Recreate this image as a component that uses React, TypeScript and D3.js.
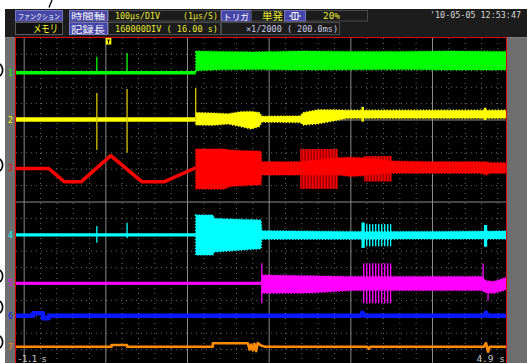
import React from 'react';
import * as d3 from 'd3';

type Pt = [number, number];
type Env = [number, number, number];
type Blk = [number, number, number, number];

// ---- axes ----
const timeDomain: [number, number] = [-1.1, 4.9]; // seconds
const divDomain: [number, number] = [0, 4]; // vertical divisions
const majorTimes = [-1, 0, 1, 2, 3, 4];
const majorDivs = [1, 2, 3];
const timeLabels = ['-1.1 s', '4.9 s'];
const channelNames = ['1', '2', '3', '4', '5', '6', '7'];
const channelColors = ['#00ff00', '#ffff00', '#ff0000', '#00ffff', '#ff00ff', '#0a18ff', '#ff8c00'];

// ---- CH1 (green) ----
const ch1Line: Pt[] = [[-1.1, 3.577], [1.1, 3.577]];
const ch1Spikes: Env[] = [[-0.11, 3.577, 3.772], [0.26, 3.577, 3.817], [-0.2, 3.577, 3.6], [0.93, 3.577, 3.6], [1.1, 3.577, 3.62]];
const ch1Band: Env[] = [[1.1, 3.6, 3.84], [1.4, 3.612, 3.835], [1.8, 3.615, 3.83], [2.4, 3.61, 3.84], [3.0, 3.612, 3.835], [3.6, 3.615, 3.835], [4.2, 3.61, 3.84], [4.9, 3.61, 3.835]];

// ---- CH2 (yellow) ----
const ch2Line: Pt[] = [[-1.1, 3.006], [1.1, 3.006]];
const ch2Spikes: Env[] = [[-0.11, 2.634, 3.329], [0.26, 2.601, 3.378], [1.1, 3.0, 3.39]];
const ch2Band: Env[] = [[1.1, 2.94, 3.09], [1.3, 2.935, 3.085], [1.5, 2.95, 3.075], [1.65, 2.92, 3.1], [1.78, 2.89, 3.105], [1.88, 2.92, 3.09], [1.91, 2.975, 3.045], [2.38, 2.97, 3.05], [2.42, 2.94, 3.09], [2.6, 2.955, 3.125], [2.8, 2.99, 3.125], [2.95, 3.02, 3.12], [4.9, 3.02, 3.12]];
const ch2Solid: Blk[] = [[3.13, 3.16, 2.98, 3.16], [4.63, 4.66, 3.0, 3.15]];

// ---- CH3 (red) ----
const ch3Line: Pt[] = [[-1.1, 2.409], [-0.7, 2.409], [-0.51, 2.248], [-0.3, 2.248], [0.06, 2.565], [0.44, 2.248], [0.72, 2.248], [1.1, 2.418]];
const ch3Band: Env[] = [[1.1, 2.16, 2.646], [1.45, 2.16, 2.646], [1.52, 2.19, 2.635], [1.7, 2.2, 2.625], [1.9, 2.21, 2.62], [1.91, 2.33, 2.49], [2.38, 2.33, 2.49], [2.84, 2.33, 2.54], [3.0, 2.31, 2.545], [3.14, 2.32, 2.54], [3.5, 2.35, 2.5], [4.0, 2.35, 2.49], [4.6, 2.35, 2.49], [4.66, 2.33, 2.49], [4.7, 2.35, 2.48], [4.9, 2.35, 2.48]];
const ch3Striped: Blk[] = [[2.38, 2.84, 2.16, 2.646], [3.16, 3.5, 2.25, 2.56]];

// ---- CH4 (cyan) ----
const ch4Line: Pt[] = [[-1.1, 1.598], [1.1, 1.598]];
const ch4Spikes: Env[] = [[-0.11, 1.504, 1.707], [0.26, 1.561, 1.748]];
const ch4Band: Env[] = [[1.1, 1.354, 1.841], [1.31, 1.354, 1.841], [1.33, 1.39, 1.8], [1.6, 1.41, 1.79], [1.9, 1.43, 1.78], [1.91, 1.545, 1.65], [3.0, 1.545, 1.64], [4.0, 1.55, 1.64], [4.9, 1.55, 1.645]];
const ch4Solid: Blk[] = [[3.13, 3.17, 1.44, 1.75], [4.63, 4.67, 1.455, 1.72]];
const ch4Striped: Blk[] = [[3.17, 3.5, 1.46, 1.73]];

// ---- CH5 (magenta) ----
const ch5Line: Pt[] = [[-1.1, 1.009], [1.91, 1.009]];
const ch5Spikes: Env[] = [[1.91, 0.765, 1.252], [4.62, 0.95, 1.25], [4.68, 0.8, 1.0]];
const ch5Band: Env[] = [[1.91, 0.887, 1.11], [2.5, 0.89, 1.1], [3.0, 0.92, 1.09], [4.0, 0.92, 1.09], [4.6, 0.92, 1.09], [4.66, 0.89, 1.04], [4.75, 0.887, 1.03], [4.9, 0.93, 1.08]];
const ch5Striped: Blk[] = [[3.14, 3.5, 0.765, 1.252]];

// ---- CH6 (blue) ----
const ch6Line: Pt[] = [[-1.1, 0.613], [-0.89, 0.613], [-0.89, 0.643], [-0.77, 0.643], [-0.77, 0.582], [-0.7, 0.582], [-0.7, 0.613], [3.12, 0.613], [3.14, 0.65], [3.17, 0.613], [4.63, 0.613], [4.655, 0.65], [4.68, 0.613], [4.9, 0.613]];

// ---- CH7 (orange) ----
const ch7Line: Pt[] = [[-1.1, 0.235], [0.07, 0.235], [0.07, 0.256], [0.26, 0.256], [0.26, 0.235], [1.31, 0.235], [1.31, 0.277], [1.74, 0.277], [1.76, 0.2], [1.78, 0.26], [1.8, 0.19], [1.82, 0.27], [1.84, 0.18], [1.86, 0.28], [1.9, 0.25], [1.95, 0.235], [3.2, 0.235], [3.22, 0.21], [3.24, 0.235], [4.63, 0.235], [4.655, 0.28], [4.68, 0.174], [4.7, 0.235], [4.9, 0.235]];

const channels = [
  { line: ch1Line, width: 3.5, band: ch1Band, spikes: ch1Spikes, spikeColor: '#00ff00', solid: [] as Blk[], striped: [] as Blk[], stripeBg: 'none' },
  { line: ch2Line, width: 4.5, band: ch2Band, spikes: ch2Spikes, spikeColor: '#d8c800', solid: ch2Solid, striped: [] as Blk[], stripeBg: 'none' },
  { line: ch3Line, width: 3.5, band: ch3Band, spikes: [] as Env[], spikeColor: '#ff0000', solid: [] as Blk[], striped: ch3Striped, stripeBg: '#a00000' },
  { line: ch4Line, width: 3.2, band: ch4Band, spikes: ch4Spikes, spikeColor: '#00ffff', solid: ch4Solid, striped: ch4Striped, stripeBg: 'none' },
  { line: ch5Line, width: 3.2, band: ch5Band, spikes: ch5Spikes, spikeColor: '#ff00ff', solid: [] as Blk[], striped: ch5Striped, stripeBg: 'none' },
  { line: ch6Line, width: 4.5, band: [] as Env[], spikes: [] as Env[], spikeColor: '#0a18ff', solid: [] as Blk[], striped: [] as Blk[], stripeBg: 'none' },
  { line: ch7Line, width: 2.6, band: [] as Env[], spikes: [] as Env[], spikeColor: '#ff8c00', solid: [] as Blk[], striped: [] as Blk[], stripeBg: 'none' },
];

const W = 527;
const H = 363;
const PL = 16, PR = 506, PT = 38, PB = 363;
const mono = '"DejaVu Sans Mono", "Noto Sans CJK JP", monospace';
const cjk = '"Noto Sans CJK JP", "DejaVu Sans", sans-serif';
const artifactYs = [70, 165, 276, 307, 342];

export default function App() {
  const x = d3.scaleLinear().domain(timeDomain).range([PL, PR]);
  const y = d3.scaleLinear().domain(divDomain).range([366, PT]);
  const line = d3.line<Pt>().x(d => x(d[0])).y(d => y(d[1]));
  const area = d3.area<Env>().x(d => x(d[0])).y0(d => y(d[1])).y1(d => y(d[2]));

  const minorTimes = d3.range(0, 30).map(i => -1 + i * 0.2).filter(t => Math.abs(t - Math.round(t)) > 0.01 && t < 4.9);
  const minorDivs = d3.range(1, 20).map(i => i * 0.2).filter(v => Math.abs(v - Math.round(v)) > 0.01 && y(v) > PT + 1);

  return (
    <svg width={W} height={H} style={{ position: 'absolute', left: 0, top: 0, display: 'block' }}>
      <defs>
        <clipPath id="plot"><rect x={PL} y={PT} width={PR - PL} height={PB - PT} /></clipPath>
        {channels.map((c, i) => (
          <pattern key={i} id={`st${i}`} width={3} height={4} patternUnits="userSpaceOnUse">
            {c.stripeBg !== 'none' && <rect width={3} height={4} fill={c.stripeBg} />}
            <rect width={1.4} height={4} fill={channelColors[i]} />
          </pattern>
        ))}
      </defs>
      <rect x={0} y={0} width={W} height={H} fill="#ffffff" />
      {/* header */}
      <rect x={5} y={9} width={W - 5} height={28.5} fill="#1c1c1c" />
      {/* side strips */}
      <rect x={5} y={37.5} width={10} height={H - 37.5} fill="#6e6e6e" />
      <rect x={507} y={37.5} width={20} height={H - 37.5} fill="#6e6e6e" />
      {/* plot bg */}
      <rect x={PL} y={PT} width={PR - PL} height={PB - PT} fill="#000" />
      <g clipPath="url(#plot)">
        {minorTimes.map((t, i) => (
          <line key={'mt' + i} x1={x(t)} x2={x(t)} y1={PT} y2={PB} stroke="#666" strokeWidth={1} strokeDasharray="1 4" />
        ))}
        {minorDivs.map((v, i) => (
          <line key={'md' + i} x1={PL} x2={PR} y1={y(v)} y2={y(v)} stroke="#666" strokeWidth={1} strokeDasharray="1 4" />
        ))}
        {majorTimes.map((t, i) => (
          <line key={'Mt' + i} x1={x(t)} x2={x(t)} y1={PT} y2={PB} stroke="#8a8a8a" strokeWidth={1} />
        ))}
        {majorDivs.map((v, i) => (
          <line key={'Md' + i} x1={PL} x2={PR} y1={y(v)} y2={y(v)} stroke="#8a8a8a" strokeWidth={1} />
        ))}
        {channels.map((c, i) => (
          <g key={'ch' + i}>
            {c.striped.map((b, j) => (
              <rect key={j} x={x(b[0])} y={y(b[3])} width={x(b[1]) - x(b[0])} height={y(b[2]) - y(b[3])} fill={`url(#st${i})`} />
            ))}
            <path d={line(c.line) || ''} fill="none" stroke={channelColors[i]} strokeWidth={c.width} strokeLinejoin="round" />
            {c.band.length > 0 && (
              <path d={area(c.band) || ''} fill={channelColors[i]} stroke={channelColors[i]} strokeWidth={1.6} strokeDasharray="1 2" />
            )}
            {c.solid.map((b, j) => (
              <rect key={j} x={x(b[0])} y={y(b[3])} width={x(b[1]) - x(b[0])} height={y(b[2]) - y(b[3])} fill={channelColors[i]} />
            ))}
            {c.spikes.map((s, j) => (
              <line key={j} x1={x(s[0])} x2={x(s[0])} y1={y(s[1])} y2={y(s[2])} stroke={c.spikeColor} strokeWidth={1.3} />
            ))}
          </g>
        ))}
      </g>
      {/* trigger marker */}
      <rect x={x(0)} y={PT} width={5.5} height={6.5} fill="#ffff00" />
      <line x1={x(0) + 1.2} x2={x(0) + 4.3} y1={PT + 2} y2={PT + 2} stroke="#000" strokeWidth={1} />
      <line x1={x(0) + 2.75} x2={x(0) + 2.75} y1={PT + 2} y2={PT + 5.5} stroke="#000" strokeWidth={1} />
      {/* border */}
      <path d={`M${PL - 0.5},${PB} V${PT - 0.5} H${PR + 0.5} V${PB}`} fill="none" stroke="#e00000" strokeWidth={1} />
      {/* channel labels */}
      {channels.map((c, i) => (
        <text key={'l' + i} x={10.5} y={y(c.line[0][1]) + 3} fontSize={8} fontFamily={mono} fill={channelColors[i]} textAnchor="middle">{channelNames[i]}</text>
      ))}
      {/* time labels */}
      <text x={PL + 1} y={362} fontSize={9.5} fontFamily={mono} fill="#c8c8c8" textLength={30}>{timeLabels[0]}</text>
      <text x={PR - 1} y={362} fontSize={9.5} fontFamily={mono} fill="#c8c8c8" textAnchor="end">{timeLabels[1]}</text>
      {/* header boxes */}
      <rect x={15.5} y={10.5} width={47} height={10.5} fill="#4646a8" stroke="#7878c0" />
      <text x={39} y={18.5} fontSize={7} fontFamily={cjk} fill="#ffffff" textAnchor="middle" textLength={42} lengthAdjust="spacingAndGlyphs">ファンクション</text>
      <rect x={15.5} y={22.5} width={47} height={12} fill="#0e0e0e" stroke="#5a5a5a" />
      <text x={33} y={33} fontSize={11} fontFamily={cjk} fill="#ffff30" textLength={25} lengthAdjust="spacingAndGlyphs">メモリ</text>
      <rect x={69.5} y={10.5} width={38} height={10.5} fill="#4646a8" stroke="#7878c0" />
      <text x={71} y={19} fontSize={8.5} fontFamily={cjk} fill="#ffffff" textLength={34} lengthAdjust="spacingAndGlyphs">時間軸</text>
      <rect x={69.5} y={22.5} width={38} height={12} fill="#4646a8" stroke="#7878c0" />
      <text x={71} y={32.5} fontSize={9} fontFamily={cjk} fill="#ffffff" textLength={34} lengthAdjust="spacingAndGlyphs">記録長</text>
      <rect x={108.5} y={10.5} width={112} height={10.5} fill="none" stroke="#4a4a4a" />
      <rect x={108.5} y={22.5} width={112} height={12} fill="none" stroke="#4a4a4a" />
      <text x={115} y={19} fontSize={9} fontFamily={mono} fill="#e8e830" textLength={45} lengthAdjust="spacingAndGlyphs">100μs/DIV</text>
      <text x={183} y={19} fontSize={9} fontFamily={mono} fill="#e8e830" textLength={35} lengthAdjust="spacingAndGlyphs">(1μs/S)</text>
      <text x={115} y={32} fontSize={9} fontFamily={mono} fill="#e8e830" textLength={103} lengthAdjust="spacingAndGlyphs">160000DIV ( 16.00 s)</text>
      <rect x={221.5} y={10.5} width={30} height={10.5} fill="#4646a8" stroke="#7878c0" />
      <text x={223} y={19.5} fontSize={8.5} fontFamily={cjk} fill="#ffffff" textLength={26} lengthAdjust="spacingAndGlyphs">トリガ</text>
      <rect x={251.5} y={10.5} width={116} height={10.5} fill="none" stroke="#4a4a4a" />
      <text x={262} y={20} fontSize={10} fontFamily={cjk} fill="#e8e830" textLength={21} lengthAdjust="spacingAndGlyphs">単発</text>
      <rect x={284.5} y={10.5} width={21} height={10.5} fill="#4646a8" stroke="#7878c0" />
      <path d="M289,16 H292 M298,16 H301 M292,12.5 V19.5 H298 V12.5 Z M295,12.5 V19.5" fill="none" stroke="#ffffff" strokeWidth={1} />
      <text x={323} y={19} fontSize={9} fontFamily={mono} fill="#e8e830" textLength={17} lengthAdjust="spacingAndGlyphs">20%</text>
      <rect x={221.5} y={22.5} width={118} height={12} fill="none" stroke="#4a4a4a" />
      <text x={246} y={32} fontSize={9} fontFamily={mono} fill="#c8c8e4" textLength={92} lengthAdjust="spacingAndGlyphs">×1/2000 ( 200.0ms)</text>
      <text x={430} y={18} fontSize={9} fontFamily={mono} fill="#d8d8d8" textLength={91} lengthAdjust="spacingAndGlyphs">'10-05-05 12:53:47</text>
      {/* stray marks in the capture */}
      <line x1={52} y1={0} x2={49} y2={7.5} stroke="#000" strokeWidth={1.3} />
      {artifactYs.map((v, i) => (
        <path key={'a' + i} d={`M-2,${v - 7} A 9 8 0 0 1 -2,${v + 7}`} fill="none" stroke="#000" strokeWidth={1.6} />
      ))}
    </svg>
  );
}
